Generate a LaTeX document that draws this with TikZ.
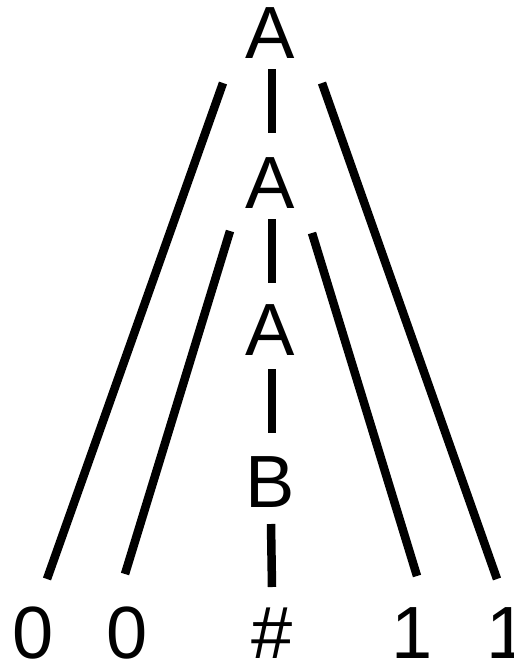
\documentclass[tikz,border=0pt]{standalone}
\usepackage{fontspec}
\setmainfont{Liberation Sans}
\begin{document}
\begin{tikzpicture}[x=1pt,y=-1pt,
  lbl/.style={anchor=base,inner sep=0pt,font=\fontsize{74}{74}\selectfont},
  edge/.style={line width=8.5pt}]
\useasboundingbox (0,0) rectangle (514,664);
% labels
\node[lbl] (a1) at (270,58) {A};
\node[lbl] (a2) at (270,208) {A};
\node[lbl] (a3) at (270,355) {A};
\node[lbl] (b)  at (270,507) {B};
\node[lbl] (z1) at (33,658) {0};
\node[lbl] (z2) at (127,658) {0};
\node[lbl] (h)  at (272,658) {\#};
\node[lbl] (o1) at (412,658) {1};
\node[lbl] (o2) at (507,658) {1};
% end points
\coordinate (ol1) at (223,83);  \coordinate (ol2) at (47,579);
\coordinate (or1) at (322,83);  \coordinate (or2) at (497,579);
\coordinate (il1) at (230,231); \coordinate (il2) at (125,574);
\coordinate (ir1) at (312,233); \coordinate (ir2) at (417,576);
\coordinate (v1a) at (272,69);  \coordinate (v1b) at (272,133);
\coordinate (v2a) at (272,219); \coordinate (v2b) at (272,283);
\coordinate (v3a) at (272,369); \coordinate (v3b) at (272,433);
\coordinate (v4a) at (271,524); \coordinate (v4b) at (272,587);
% connectors
\draw[edge] (ol1) -- (ol2);
\draw[edge] (or1) -- (or2);
\draw[edge] (il1) -- (il2);
\draw[edge] (ir1) -- (ir2);
\draw[edge] (v1a) -- (v1b);
\draw[edge] (v2a) -- (v2b);
\draw[edge] (v3a) -- (v3b);
\draw[edge] (v4a) -- (v4b);
\end{tikzpicture}
\end{document}
